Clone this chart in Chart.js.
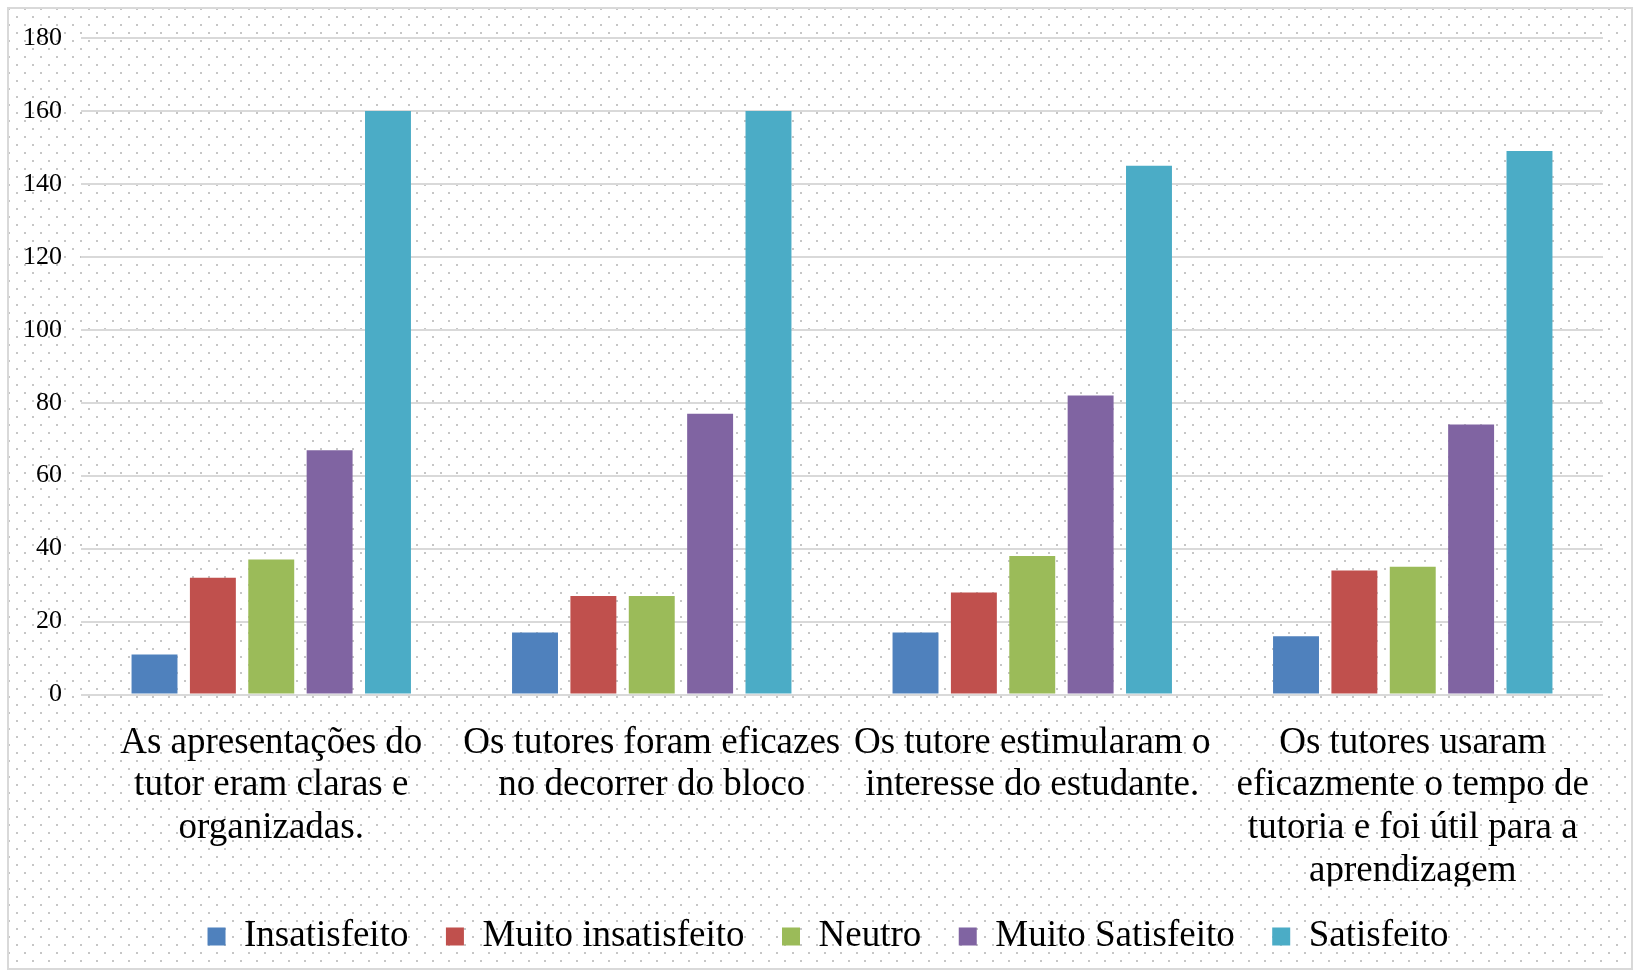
<!DOCTYPE html>
<html>
<head>
<meta charset="utf-8">
<script src="https://cdn.jsdelivr.net/npm/chart.js@4/dist/chart.umd.min.js"></script>
<style>
  html, body { margin: 0; padding: 0; background: #fff; }
  #box {
    position: absolute; left: 7px; top: 7px;
    width: 1622px; height: 959px;
    border: 2px solid #d9d9d9;
    background-color: #fff;
    background-image:
      radial-gradient(circle, #c6c6c6 0.9px, transparent 1.3px),
      radial-gradient(circle, #c6c6c6 0.9px, transparent 1.3px);
    background-size: 16px 16px;
    background-position: 0 0, 8px 8px;
    overflow: hidden;
  }
  #c { display: block; }
</style>
</head>
<body>
<div id="box"><canvas id="c" width="1622" height="978"></canvas></div>
<script>
// =======================
// Data
// =======================
const categories = [
  ["As apresentações do", "tutor eram claras e", "organizadas."],
  ["Os tutores foram eficazes", "no decorrer do bloco"],
  ["Os tutore estimularam o", "interesse do estudante."],
  ["Os tutores usaram", "eficazmente o tempo de", "tutoria e foi útil para a", "aprendizagem"]
];
const seriesNames = ["Insatisfeito", "Muito insatisfeito", "Neutro", "Muito Satisfeito", "Satisfeito"];
const insatisfeito      = [11, 17, 17, 16];
const muitoInsatisfeito = [32, 27, 28, 34];
const neutro            = [37, 27, 38, 35];
const muitoSatisfeito   = [67, 77, 82, 74];
const satisfeito        = [160, 160, 145, 149];
const yTicks = [0, 20, 40, 60, 80, 100, 120, 140, 160, 180];

const colors = ["#4F81BD", "#C0504D", "#9BBB59", "#8064A2", "#4BACC6"];
const values = [insatisfeito, muitoInsatisfeito, neutro, muitoSatisfeito, satisfeito];

const serif = "'Liberation Serif', 'Times New Roman', serif";

const datasets = seriesNames.map((name, i) => ({
  label: name,
  data: values[i],
  backgroundColor: colors[i],
  borderWidth: 0,
  categoryPercentage: 0.767,
  barPercentage: 0.787
}));

// legend sits a bit higher and further right than Chart.js would put it
const legendNudge = {
  id: 'legendNudge',
  afterLayout(chart){
    const l = chart.legend;
    l.top -= 6; l.bottom -= 6;
    l.left += 22; l.right += 22;
  }
};

new Chart(document.getElementById("c").getContext("2d"), {
  type: 'bar',
  data: { labels: categories, datasets },
  plugins: [legendNudge],
  options: {
    responsive: false,
    animation: false,
    layout: { padding: { left: 0, right: 28, top: 29, bottom: 16 } },
    plugins: {
      tooltip: { enabled: false },
      legend: {
        position: 'bottom',
        labels: {
          color: '#000',
          font: { family: serif, size: 37 },
          boxWidth: 18, boxHeight: 18,
          padding: 37.5
        }
      }
    },
    scales: {
      x: {
        grid: { display: false },
        border: { display: false },
        ticks: {
          color: '#000',
          font: { family: serif, size: 37, lineHeight: 1.155 },
          maxRotation: 0, minRotation: 0, autoSkip: false,
          padding: 19
        },
        afterFit: s => { s.height = 192; }
      },
      y: {
        min: 0, max: 180,
        afterBuildTicks: s => { s.ticks = yTicks.map(v => ({ value: v })); },
        grid: { color: '#d9d9d9', lineWidth: 2, drawTicks: false },
        border: { display: false },
        ticks: {
          color: '#000',
          font: { family: serif, size: 26, lineHeight: 0.6 },
          padding: 19
        },
        afterFit: s => { s.width = 72; }
      }
    }
  }
});
</script>
</body>
</html>
